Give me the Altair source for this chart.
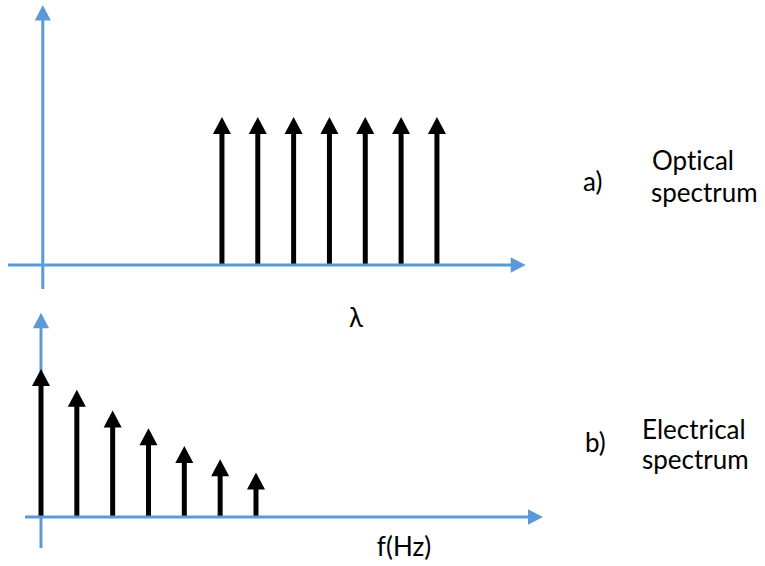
import altair as alt
import pandas as pd

# ---- data ----
optical_pos = [5, 6, 7, 8, 9, 10, 11]
optical_amp = [1.0, 1.0, 1.0, 1.0, 1.0, 1.0, 1.0]
elec_pos = [0, 1, 2, 3, 4, 5, 6]
elec_amp = [1.0, 0.86, 0.72, 0.60, 0.48, 0.39, 0.30]

BLUE = "#5B9BD5"
FONT = "Lato"
FS = 26

UP_HEAD = "M0,0 L0.53,1 L-0.53,1 Z"
AX_UP = "M0,0 L0.52,1 L-0.52,1 Z"
AX_RIGHT = "M0,0 L-1,-0.52 L-1,0.52 Z"


def panel(pos, amp, xdom, ydom, vax, hax, texts):
    xs = alt.Scale(domain=xdom, nice=False, zero=False)
    ys = alt.Scale(domain=ydom, nice=False, zero=False)
    X = lambda f: alt.X(f, type="quantitative", scale=xs, axis=None)
    Y = lambda f: alt.Y(f, type="quantitative", scale=ys, axis=None)

    stems = pd.DataFrame({"pos": pos, "amp": amp, "base": [0.0] * len(pos)})
    vdf = pd.DataFrame({"x": [0.0], "y": [vax[0]], "y2": [vax[1]]})
    hdf = pd.DataFrame({"y": [0.0], "x": [hax[0]], "x2": [hax[1]]})

    layers = [
        alt.Chart(vdf).mark_rule(color=BLUE, strokeWidth=3, y2Offset=10).encode(
            x=X("x"), y=Y("y"), y2="y2"),
        alt.Chart(vdf).mark_point(shape=AX_UP, size=961, filled=True, color=BLUE,
                                  opacity=1, strokeWidth=0).encode(x=X("x"), y=Y("y2")),
        alt.Chart(stems).mark_rule(color="black", strokeWidth=5, y2Offset=12).encode(
            x=X("pos"), y=Y("base"), y2="amp"),
        alt.Chart(stems).mark_point(shape=UP_HEAD, size=1156, filled=True, color="black",
                                    opacity=1, strokeWidth=0).encode(x=X("pos"), y=Y("amp")),
        alt.Chart(hdf).mark_rule(color=BLUE, strokeWidth=3, x2Offset=-10).encode(
            y=Y("y"), x=X("x"), x2="x2"),
        alt.Chart(hdf).mark_point(shape=AX_RIGHT, size=900, filled=True, color=BLUE,
                                  opacity=1, strokeWidth=0).encode(x=X("x2"), y=Y("y")),
    ]
    for label, px, py, al in texts:
        layers.append(
            alt.Chart(pd.DataFrame({"t": [label]})).mark_text(
                font=FONT, fontSize=FS, color="black", align=al, baseline="alphabetic"
            ).encode(x=alt.value(px), y=alt.value(py), text="t:N")
        )
    return alt.layer(*layers).properties(width=765, height=283)


top = panel(
    optical_pos, optical_amp,
    [-1.1945, 20.156], [-0.1216, 1.7905],
    (-0.162, 1.757), (-0.971, 13.477),
    [("a)", 583, 191, "left"), ("Opt\u200cical", 652, 170, "left"), ("spectrum", 651, 202, "left")],
)
bottom = panel(
    elec_pos, elec_amp,
    [-1.1443, 20.206], [-0.3311, 1.5811],
    (-0.2095, 1.380), (-0.4466, 14.01),
    [("λ", 356, 44, "center"), ("b)", 585, 169, "left"), ("Electrical", 642, 156, "left"),
     ("spectrum", 642, 186, "left"), ("f(Hz)", 404, 273, "center")],
)

chart = alt.vconcat(top, bottom, spacing=0, bounds="flush").resolve_scale(
    x="independent", y="independent"
).properties(padding=0).configure_view(strokeWidth=0)

chart.save("out.html", embed_options={"renderer": "svg", "actions": False})
